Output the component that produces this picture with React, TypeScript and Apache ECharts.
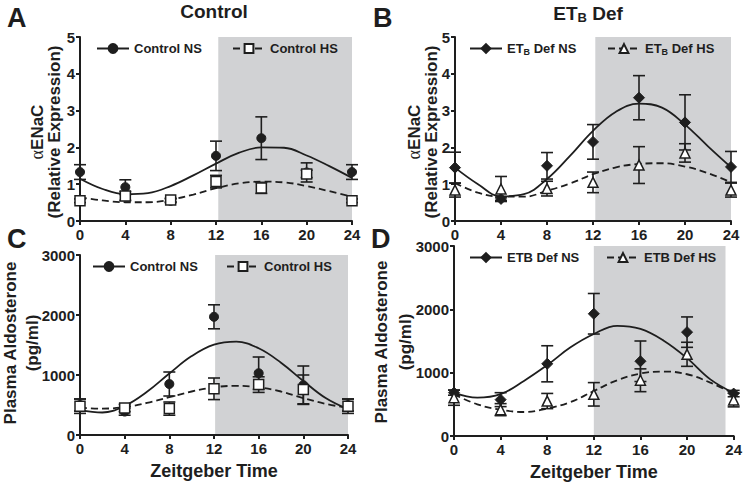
import React, { useEffect, useRef } from 'react';
import * as echarts from 'echarts';

// ---------- data ----------
const hours = [0, 4, 8, 12, 16, 20, 24];
const fitHours = [0, 2, 4, 6, 8, 10, 12, 14, 16, 18, 20, 22, 24];

// dark (active) phase shading, in Zeitgeber hours
const darkA = [12.2, 24];
const darkB = [12.2, 24];
const darkC = [12.1, 24];
const darkD = [12.0, 23.3];

// Panel A: Control, alpha ENaC
const aNS = [1.33, 0.92, 0.55, 1.77, 2.25, 1.32, 1.33];
const aNSErr = [0.2, 0.2, 0.05, 0.4, 0.58, 0.26, 0.2];
const aHS = [0.55, 0.68, 0.57, 1.07, 0.9, 1.28, 0.55];
const aHSErr = [0.05, 0.12, 0.05, 0.17, 0.15, 0.1, 0.05];
const aNSFit = [1.15, 0.87, 0.73, 0.76, 0.95, 1.24, 1.56, 1.85, 2.0, 1.99, 1.78, 1.49, 1.17];
const aHSFit = [0.64, 0.56, 0.51, 0.51, 0.58, 0.72, 0.89, 1.02, 1.07, 1.05, 0.95, 0.81, 0.66];

// Panel B: ETB Def, alpha ENaC
const bNS = [1.45, 0.6, 1.5, 2.15, 3.35, 2.68, 1.47];
const bNSErr = [0.42, 0.05, 0.36, 0.47, 0.6, 0.75, 0.42];
const bHS = [0.84, 0.87, 0.88, 1.05, 1.52, 1.85, 0.84];
const bHSErr = [0.19, 0.34, 0.2, 0.28, 0.5, 0.25, 0.19];
const bNSFit = [1.45, 1.0, 0.67, 0.73, 1.14, 1.77, 2.45, 2.97, 3.19, 3.08, 2.62, 2.03, 1.46];
const bHSFit = [1.03, 0.77, 0.66, 0.66, 0.82, 1.02, 1.27, 1.46, 1.55, 1.57, 1.48, 1.3, 1.05];

// Panel C: Control, plasma aldosterone (pg/ml)
const cNS = [500, 390, 850, 1970, 1030, 830, 500];
const cNSErr = [100, 60, 200, 200, 270, 320, 100];
const cHS = [480, 450, 440, 770, 840, 760, 480];
const cHSErr = [120, 60, 110, 180, 130, 240, 120];
const cNSFit = [420, 375, 485, 720, 1025, 1315, 1505, 1555, 1445, 1205, 900, 615, 430];
const cHSFit = [455, 440, 465, 535, 630, 725, 795, 820, 795, 725, 615, 520, 450];

// Panel D: ETB Def, plasma aldosterone (pg/ml)
const dNS = [684, 574, 1140, 1930, 1180, 1640, 670];
const dNSErr = [40, 110, 285, 320, 320, 240, 50];
const dHS = [605, 416, 552, 658, 880, 1290, 570];
const dHSErr = [120, 95, 120, 185, 180, 190, 110];
const dNSFit = [685, 605, 660, 870, 1120, 1400, 1610, 1740, 1690, 1505, 1229, 894, 681];
const dHSFit = [658, 500, 416, 379, 432, 536, 710, 880, 986, 1018, 975, 842, 666];

// ---------- styling ----------
const FONT = '"Liberation Sans", Arial, Helvetica, sans-serif';
const SERIF = '"Liberation Serif", "DejaVu Serif", serif';
const INK = '#1e1e1e';
const SHADE = '#d1d2d4';

const grids = [
  { left: 80, top: 37, width: 272, height: 184 },
  { left: 455, top: 37, width: 276, height: 184 },
  { left: 80, top: 255, width: 268, height: 180 },
  { left: 454, top: 246, width: 280, height: 190 },
];

const pair = (xs: number[], ys: number[]) => xs.map((x, i) => [x, ys[i]]);
const triple = (xs: number[], ys: number[], es: number[]) => xs.map((x, i) => [x, ys[i], es[i]]);

const errorBarItem = (_params: any, api: any) => {
  const x = api.value(0);
  const y = api.value(1);
  const e = api.value(2);
  const hi = api.coord([x, y + e]);
  const lo = api.coord([x, y - e]);
  const hw = 6;
  const style = { stroke: INK, lineWidth: 1.6, fill: 'none' };
  return {
    type: 'group',
    children: [
      { type: 'line', shape: { x1: hi[0], y1: hi[1], x2: lo[0], y2: lo[1] }, style },
      { type: 'line', shape: { x1: hi[0] - hw, y1: hi[1], x2: hi[0] + hw, y2: hi[1] }, style },
      { type: 'line', shape: { x1: lo[0] - hw, y1: lo[1], x2: lo[0] + hw, y2: lo[1] }, style },
    ],
  };
};

type Panel = {
  nsName: string;
  hsName: string;
  nsSymbol: string;
  hsSymbol: string;
  nsSize: number;
  hsSize: number;
  ns: number[];
  nsErr: number[];
  hs: number[];
  hsErr: number[];
  nsFit: number[];
  hsFit: number[];
  dark: number[];
};

const panels: Panel[] = [
  { nsName: 'Control NS', hsName: 'Control HS', nsSymbol: 'circle', hsSymbol: 'rect', nsSize: 9, hsSize: 10,
    ns: aNS, nsErr: aNSErr, hs: aHS, hsErr: aHSErr, nsFit: aNSFit, hsFit: aHSFit, dark: darkA },
  { nsName: 'ET_B Def NS', hsName: 'ET_B Def HS', nsSymbol: 'diamond', hsSymbol: 'triangle', nsSize: 11, hsSize: 10,
    ns: bNS, nsErr: bNSErr, hs: bHS, hsErr: bHSErr, nsFit: bNSFit, hsFit: bHSFit, dark: darkB },
  { nsName: 'Control NS ', hsName: 'Control HS ', nsSymbol: 'circle', hsSymbol: 'rect', nsSize: 9, hsSize: 10,
    ns: cNS, nsErr: cNSErr, hs: cHS, hsErr: cHSErr, nsFit: cNSFit, hsFit: cHSFit, dark: darkC },
  { nsName: 'ETB Def NS', hsName: 'ETB Def HS', nsSymbol: 'diamond', hsSymbol: 'triangle', nsSize: 11, hsSize: 10,
    ns: dNS, nsErr: dNSErr, hs: dHS, hsErr: dHSErr, nsFit: dNSFit, hsFit: dHSFit, dark: darkD },
];

// legend anchor positions (left, top) for NS and HS items of each panel
const legendPos = [
  [[96, 42], [232, 42]],
  [[469, 42], [607, 42]],
  [[92, 260], [226, 260]],
  [[469, 251], [606, 251]],
];

// y-axis title lines: [text, centerX, centerY]
const yTitles: [string, number, number][] = [
  ['{a|α}ENaC', 37, 132],
  ['(Relative Expression)', 54, 132],
  ['{a|α}ENaC', 414, 132],
  ['(Relative Expression)', 431, 132],
  ['Plasma Aldosterone', 10, 343],
  ['(pg/ml)', 32, 343],
  ['Plasma Aldosterone', 381, 342],
  ['(pg/ml)', 405, 342],
];

const buildOption = () => {
  const series: any[] = [];
  panels.forEach((p, i) => {
    series.push({
      name: p.nsName, type: 'line', xAxisIndex: i, yAxisIndex: i,
      data: pair(fitHours, p.nsFit), smooth: 0.4, symbol: p.nsSymbol, symbolSize: p.nsSize,
      showSymbol: false, z: 4, silent: true,
      lineStyle: { color: INK, width: 1.8, type: 'solid' },
      itemStyle: { color: INK, borderColor: INK, borderWidth: 1 },
      markArea: {
        silent: true, z: 1,
        itemStyle: { color: SHADE, borderWidth: 0 },
        data: [[{ xAxis: p.dark[0] }, { xAxis: p.dark[1] }]],
      },
    });
    series.push({
      name: p.hsName, type: 'line', xAxisIndex: i, yAxisIndex: i,
      data: pair(fitHours, p.hsFit), smooth: 0.4, symbol: p.hsSymbol, symbolSize: p.hsSize,
      showSymbol: false, z: 4, silent: true,
      lineStyle: { color: INK, width: 1.8, type: [7, 4] },
      itemStyle: { color: '#ffffff', borderColor: INK, borderWidth: 1.5 },
    });
    series.push({
      name: p.nsName + ' SEM', type: 'custom', xAxisIndex: i, yAxisIndex: i,
      data: triple(hours, p.ns, p.nsErr), renderItem: errorBarItem, encode: { x: 0, y: 1 },
      z: 5, silent: true, clip: false,
    });
    series.push({
      name: p.hsName + ' SEM', type: 'custom', xAxisIndex: i, yAxisIndex: i,
      data: triple(hours, p.hs, p.hsErr), renderItem: errorBarItem, encode: { x: 0, y: 1 },
      z: 5, silent: true, clip: false,
    });
    series.push({
      name: p.nsName + ' data', type: 'scatter', xAxisIndex: i, yAxisIndex: i,
      data: pair(hours, p.ns), symbol: p.nsSymbol, symbolSize: p.nsSize, z: 6, silent: true, clip: false,
      itemStyle: { color: INK, borderColor: INK, borderWidth: 1, opacity: 1 },
    });
    series.push({
      name: p.hsName + ' data', type: 'scatter', xAxisIndex: i, yAxisIndex: i,
      data: pair(hours, p.hs), symbol: p.hsSymbol, symbolSize: p.hsSize, z: 7, silent: true, clip: false,
      itemStyle: { color: '#ffffff', borderColor: INK, borderWidth: 1.5, opacity: 1 },
    });
  });

  const legendText = {
    color: INK, fontSize: 13, fontWeight: 'bold', fontFamily: FONT,
    rich: {
      sub: { fontSize: 9, fontWeight: 'bold', fontFamily: FONT, color: INK, padding: [7, 0, 0, 0] },
      n: { fontSize: 13, fontWeight: 'bold', fontFamily: FONT, color: INK },
    },
  };
  const legends: any[] = [];
  panels.forEach((p, i) => {
    [p.nsName, p.hsName].forEach((nm, k) => {
      legends.push({
        data: [nm], left: legendPos[i][k][0], top: legendPos[i][k][1], orient: 'horizontal',
        itemWidth: 32, itemHeight: 11, selectedMode: false, padding: 0,
        textStyle: legendText,
        formatter: (name: string) => {
          const t = name.trim();
          if (t.startsWith('ET_B')) return '{n|ET}{sub|B}{n|' + t.slice(4) + '}';
          return t;
        },
      });
    });
  });

  const axisCommon = {
    axisLine: { show: true, onZero: false, lineStyle: { color: INK, width: 2 } },
    axisTick: { show: true, length: 4, lineStyle: { color: INK, width: 2 } },
    splitLine: { show: false },
    z: 3,
  };
  const labelStyle = { color: INK, fontSize: 15, fontWeight: 'bold', fontFamily: FONT };

  const xAxes = panels.map((_p, i) => ({
    type: 'value', gridIndex: i, min: 0, max: 24, interval: 4,
    ...axisCommon,
    axisLabel: { ...labelStyle, margin: 6 },
    name: i >= 2 ? 'Zeitgeber Time' : '',
    nameLocation: 'middle', nameGap: 27,
    nameTextStyle: { color: INK, fontSize: 18, fontWeight: 'bold', fontFamily: FONT },
  }));

  const yAxes = panels.map((_p, i) => {
    const enac = i < 2;
    return {
      type: 'value', gridIndex: i, min: 0, max: enac ? 5 : 3000, interval: enac ? 1 : 1000,
      ...axisCommon,
      axisLabel: { ...labelStyle, margin: 5, formatter: (v: number) => String(v) },
    };
  });

  const graphic = yTitles.map(([text, x, y]) => ({
    type: 'text', x, y, rotation: Math.PI / 2, silent: true,
    style: {
      text, fill: INK, font: `bold 17px ${FONT}`,
      align: 'center', verticalAlign: 'middle',
      textAlign: 'center', textVerticalAlign: 'middle',
      rich: {
        a: { fontSize: 18, fontWeight: 'normal', fontFamily: SERIF, fill: INK, color: INK },
      },
    },
  }));

  const letter = (text: string, left: number, top: number) => ({
    text, left, top, padding: 0,
    textStyle: { color: INK, fontSize: 27, fontWeight: 'bold', fontFamily: FONT },
  });

  return {
    animation: false,
    backgroundColor: '#ffffff',
    title: [
      letter('A', 7, 4),
      letter('B', 373, 4),
      letter('C', 7, 225),
      letter('D', 371, 225),
      {
        text: 'Control', left: 214, top: 2, textAlign: 'center', padding: 0,
        textStyle: { color: INK, fontSize: 19, fontWeight: 'bold', fontFamily: FONT },
      },
      {
        text: '{n|ET}{s|B}{n| Def}', left: 588, top: 2, textAlign: 'center', padding: 0,
        textStyle: {
          color: INK, fontSize: 19, fontWeight: 'bold', fontFamily: FONT,
          rich: {
            n: { fontSize: 19, fontWeight: 'bold', fontFamily: FONT, color: INK },
            s: { fontSize: 13, fontWeight: 'bold', fontFamily: FONT, color: INK, padding: [9, 0, 0, 0] },
          },
        },
      },
    ],
    legend: legends,
    grid: grids.map((g) => ({ ...g, containLabel: false })),
    xAxis: xAxes,
    yAxis: yAxes,
    graphic,
    series,
  };
};

export default function App() {
  const ref = useRef<HTMLDivElement>(null);
  useEffect(() => {
    if (!ref.current) return;
    const chart = echarts.init(ref.current, undefined, { renderer: 'svg' });
    chart.setOption(buildOption() as any);
    return () => chart.dispose();
  }, []);
  return <div ref={ref} style={{ width: 745, height: 482, position: 'absolute', left: 0, top: 0 }} />;
}
